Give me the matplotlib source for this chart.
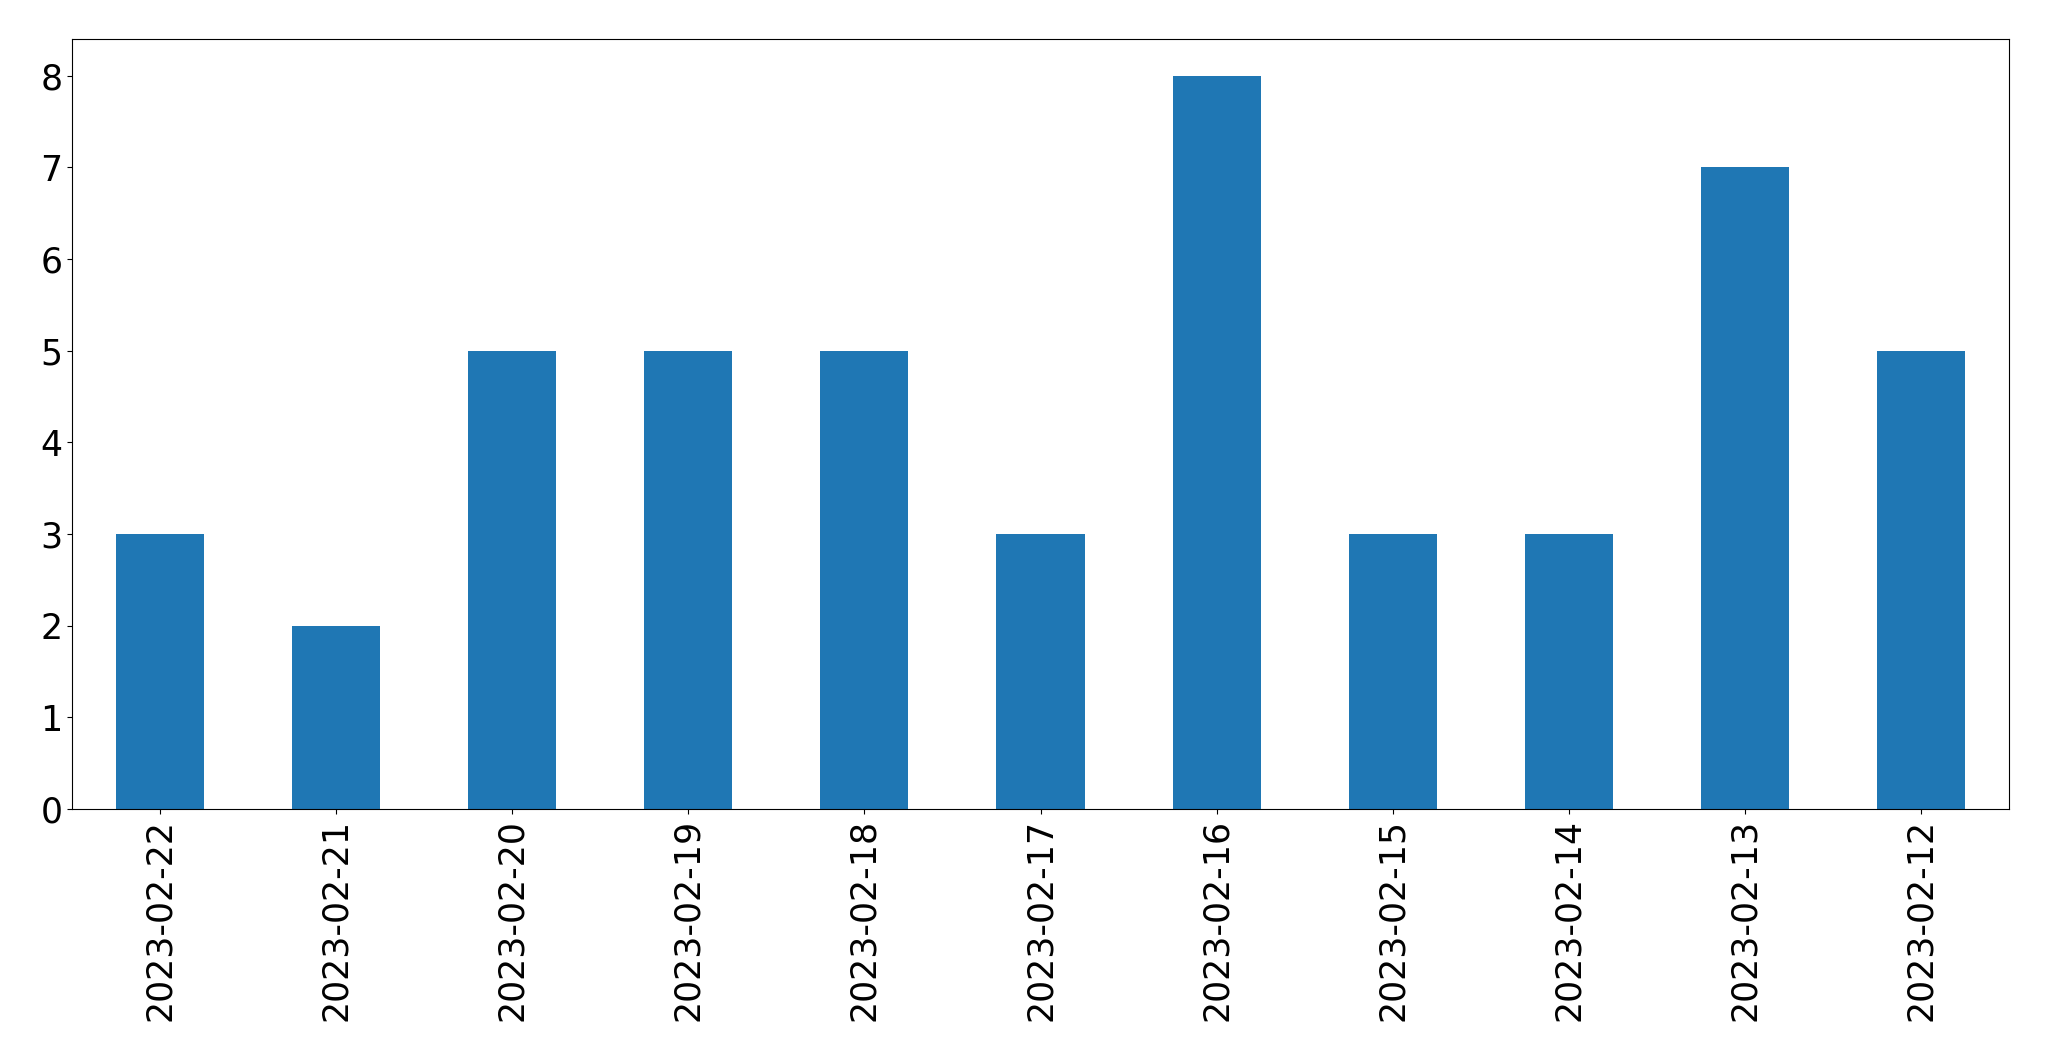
import matplotlib
matplotlib.use("Agg")
import matplotlib.pyplot as plt
import pandas as pd

dates = ["2023-02-22", "2023-02-21", "2023-02-20", "2023-02-19", "2023-02-18",
         "2023-02-17", "2023-02-16", "2023-02-15", "2023-02-14", "2023-02-13",
         "2023-02-12"]
counts = [3, 2, 5, 5, 5, 3, 8, 3, 3, 7, 5]

series = pd.Series(counts, index=dates)

fig, ax = plt.subplots(figsize=(20.49, 10.61), dpi=100)
series.plot(kind="bar", ax=ax, color="#1f77b4")
ax.tick_params(axis="both", labelsize=25)
fig.subplots_adjust(left=72 / 2049, right=2009 / 2049, top=1 - 39 / 1061, bottom=1 - 809 / 1061)

fig.savefig("out.png", dpi=100)
